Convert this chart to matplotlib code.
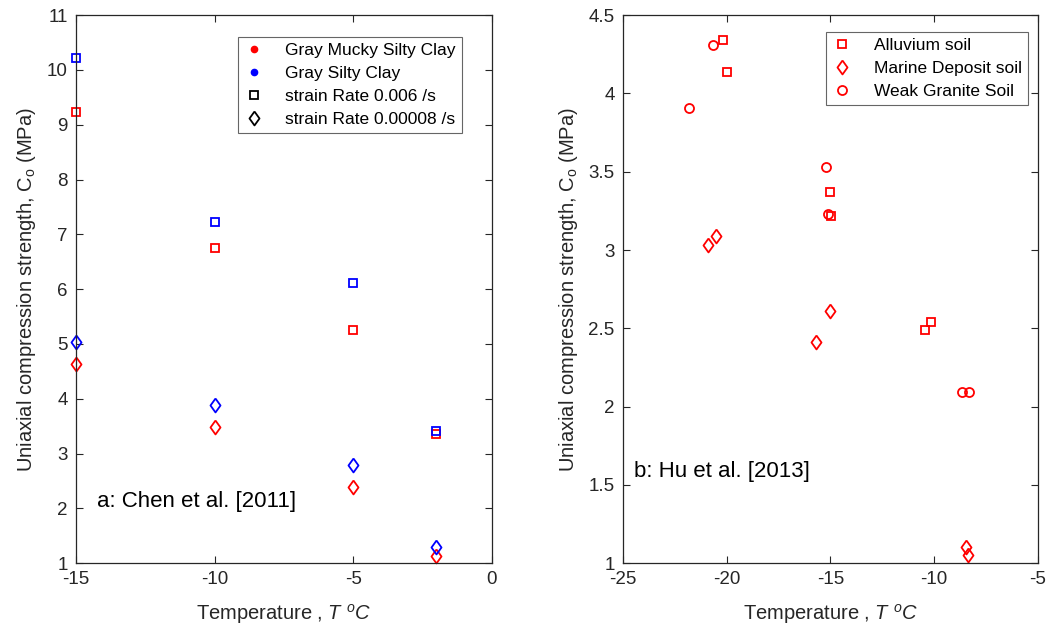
import matplotlib.pyplot as plt
from matplotlib.lines import Line2D

plt.rcParams['font.family'] = ['Liberation Sans', 'DejaVu Sans']
plt.rcParams['mathtext.fontset'] = 'custom'
plt.rcParams['mathtext.rm'] = 'Liberation Sans'
plt.rcParams['mathtext.it'] = 'Liberation Sans:italic'
plt.rcParams['axes.unicode_minus'] = False

# panel a: Chen et al. [2011]
chen_temp = [-15, -10, -5, -2]
mucky_fast = [9.23, 6.75, 5.25, 3.35]
mucky_slow = [4.63, 3.48, 2.38, 1.13]
silty_fast = [10.22, 7.23, 6.12, 3.42]
silty_slow = [5.03, 3.89, 2.79, 1.29]

# panel b: Hu et al. [2013]
alluvium_temp = [-20.2, -20.0, -15.0, -14.95, -10.45, -10.17]
alluvium_val = [4.34, 4.14, 3.37, 3.22, 2.49, 2.54]
marine_temp = [-20.9, -20.5, -15.0, -15.7, -8.47, -8.37]
marine_val = [3.03, 3.09, 2.61, 2.41, 1.10, 1.05]
granite_temp = [-21.8, -20.65, -15.2, -15.1, -8.63, -8.31]
granite_val = [3.91, 4.31, 3.53, 3.23, 2.09, 2.09]

# matlab-like diamond, a bit wider than 'd'
dia = [(0, 1), (0.72, 0), (0, -1), (-0.72, 0), (0, 1)]

fig = plt.figure(figsize=(10.5, 6.32), dpi=100)
ax1 = fig.add_axes([0.0724, 0.109, 0.396, 0.867])
ax2 = fig.add_axes([0.5933, 0.109, 0.395, 0.867])

mk = dict(linestyle='none', markerfacecolor='none', markeredgewidth=1.3, clip_on=False)
ax1.plot(chen_temp, mucky_fast, 's', color='red', markersize=5.5, **mk)
ax1.plot(chen_temp, silty_fast, 's', color='blue', markersize=5.5, **mk)
ax1.plot(chen_temp, mucky_slow, marker=dia, color='red', markersize=10, **mk)
ax1.plot(chen_temp, silty_slow, marker=dia, color='blue', markersize=10, **mk)

ax2.plot(alluvium_temp, alluvium_val, 's', color='red', markersize=5.5,
         label='Alluvium soil', **mk)
ax2.plot(marine_temp, marine_val, marker=dia, color='red', markersize=10,
         label='Marine Deposit soil', **mk)
ax2.plot(granite_temp, granite_val, 'o', color='red', markersize=6.5,
         label='Weak Granite Soil', **mk)

ax1.set_xlim(-15, 0)
ax1.set_ylim(1, 11)
ax1.set_xticks(range(-15, 1, 5))
ax1.set_yticks(range(1, 12))
ax2.set_xlim(-25, -5)
ax2.set_ylim(1, 4.5)
ax2.set_xticks(range(-25, -4, 5))
ax2.set_yticks([1, 1.5, 2, 2.5, 3, 3.5, 4, 4.5])
ax2.set_yticklabels(['1', '1.5', '2', '2.5', '3', '3.5', '4', '4.5'])

for ax in (ax1, ax2):
    ax.tick_params(direction='in', top=True, right=True, labelsize=13.5,
                   length=5, width=0.8, colors='#262626', pad=6)
    for s in ax.spines.values():
        s.set_color('#262626')
        s.set_linewidth(0.9)
    ax.set_xlabel('Temperature , $T\\ ^oC$', fontsize=14.5, color='#262626', labelpad=10)
    ax.set_ylabel('Uniaxial compression strength, C$_{\\rm o}$ (MPa)', fontsize=14.5,
                  color='#262626', labelpad=6)

ax1.text(-14.25, 2.02, 'a: Chen et al. [2011]', fontsize=16)
ax2.text(-24.45, 1.55, 'b: Hu et al. [2013]', fontsize=16)

handles = [
    Line2D([], [], marker='o', color='red', linestyle='none', markersize=4.5),
    Line2D([], [], marker='o', color='blue', linestyle='none', markersize=4.5),
    Line2D([], [], marker='s', color='black', linestyle='none', markersize=5.5,
           markerfacecolor='none', markeredgewidth=1.3),
    Line2D([], [], marker=dia, color='black', linestyle='none', markersize=10,
           markerfacecolor='none', markeredgewidth=1.3),
]
labels = ['Gray Mucky Silty Clay', 'Gray Silty Clay',
          'strain Rate 0.006 /s', 'strain Rate 0.00008 /s']
leg1 = ax1.legend(handles, labels, loc='upper right', bbox_to_anchor=(0.928, 0.96),
                  fontsize=12.5, fancybox=False, edgecolor='#404040',
                  handlelength=1.2, handletextpad=1.2, borderpad=0.35,
                  labelspacing=0.45, borderaxespad=0)
leg1.get_frame().set_linewidth(0.8)

leg2 = ax2.legend(loc='upper right', bbox_to_anchor=(0.976, 0.969), fontsize=12.5,
                  fancybox=False, edgecolor='#404040', handlelength=1.2,
                  handletextpad=1.2, borderpad=0.35, labelspacing=0.45,
                  borderaxespad=0)
leg2.get_frame().set_linewidth(0.8)

fig.savefig('out.png', dpi=100)
